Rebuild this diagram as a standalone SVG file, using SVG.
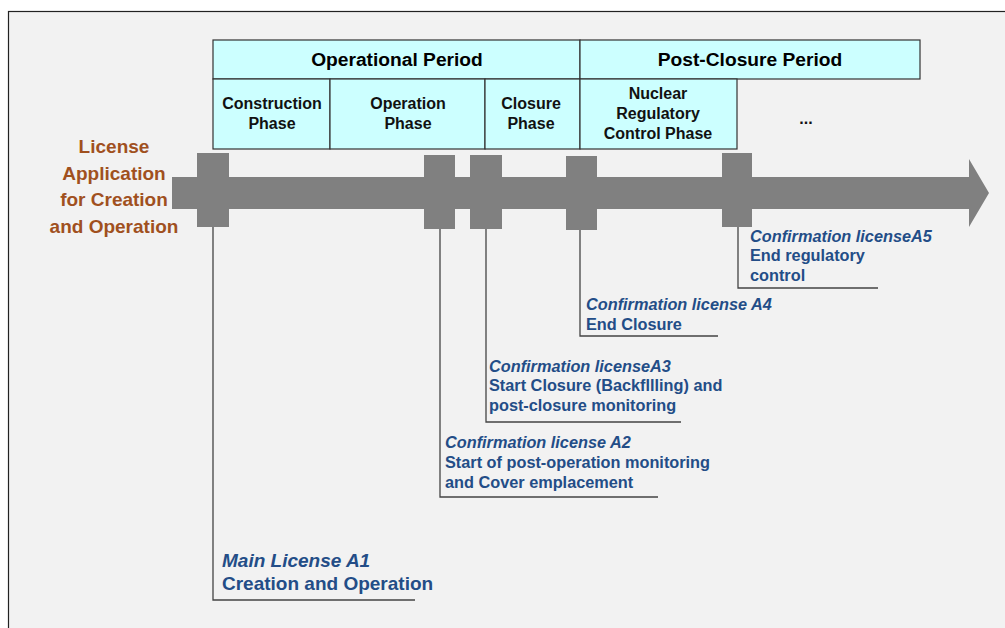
<svg xmlns="http://www.w3.org/2000/svg" width="1005" height="628" viewBox="0 0 1005 628">
<style>
.box{fill:#ccffff;stroke:#333;stroke-width:1.2}
.hd{font-family:"Liberation Sans",Arial,sans-serif;font-weight:bold;font-size:19.2px;fill:#000;text-anchor:middle}
.ph{font-family:"Liberation Sans",Arial,sans-serif;font-weight:bold;font-size:16px;fill:#111;text-anchor:middle}
.lic{font-family:"Liberation Sans",Arial,sans-serif;font-weight:bold;font-size:16.3px;fill:#234d87}
.big{font-family:"Liberation Sans",Arial,sans-serif;font-weight:bold;font-size:19px;fill:#234d87}
.it{font-style:italic}
.app{font-family:"Liberation Sans",Arial,sans-serif;font-weight:bold;font-size:19px;fill:#a0501e;text-anchor:middle}
.ln{fill:none;stroke:#444;stroke-width:1.3}
.blk{fill:#808080}
</style>
<rect x="0" y="0" width="1005" height="628" fill="#ffffff"/>
<rect x="8.5" y="11.5" width="1000" height="620" fill="#f2f2f2" stroke="#222" stroke-width="1.2"/>

<g id="header">
<g id="operational-period"><rect class="box" x="213" y="40" width="367" height="39"/><text class="hd" x="397" y="66">Operational Period</text></g>
<g id="post-closure-period"><rect class="box" x="580" y="40" width="340" height="39"/><text class="hd" x="750" y="66">Post-Closure Period</text></g>
<g id="construction-phase"><rect class="box" x="213" y="79" width="117" height="70"/><text class="ph" x="272" y="109">Construction</text><text class="ph" x="272" y="129">Phase</text></g>
<g id="operation-phase"><rect class="box" x="330" y="79" width="155" height="70"/><text class="ph" x="408" y="109">Operation</text><text class="ph" x="408" y="129">Phase</text></g>
<g id="closure-phase"><rect class="box" x="485" y="79" width="95" height="70"/><text class="ph" x="531" y="109">Closure</text><text class="ph" x="531" y="129">Phase</text></g>
<g id="regulatory-phase"><rect class="box" x="580" y="79" width="157" height="70"/><text class="ph" x="658" y="99">Nuclear</text><text class="ph" x="658" y="119">Regulatory</text><text class="ph" x="658" y="139">Control Phase</text></g>
<g id="ellipsis"><text class="ph" x="806" y="124">...</text></g>
</g>

<g id="application-label">
<text class="app" x="114" y="153">License</text>
<text class="app" x="114" y="180">Application</text>
<text class="app" x="114" y="206">for Creation</text>
<text class="app" x="114" y="233">and Operation</text>
</g>

<g id="timeline">
<polygon class="blk" points="172,177 969,177 969,159 989,193 969,227 969,209 172,209"/>
<rect class="blk" x="197" y="153" width="32" height="74"/>
<rect class="blk" x="424" y="155" width="31" height="74"/>
<rect class="blk" x="470" y="155" width="32" height="74"/>
<rect class="blk" x="566" y="156" width="31" height="74"/>
<rect class="blk" x="722" y="153" width="30" height="74"/>
</g>

<g id="connectors">
<polyline class="ln" points="213,227 213,600 415,600"/>
<polyline class="ln" points="440,229 440,497 658,497"/>
<polyline class="ln" points="486,229 486,422 681,422"/>
<polyline class="ln" points="580,230 580,336 718,336"/>
<polyline class="ln" points="738,227 738,288 878,288"/>
</g>

<g id="license-a5">
<text class="lic it" x="750" y="242">Confirmation licenseA5</text>
<text class="lic" x="750" y="261">End regulatory</text>
<text class="lic" x="750" y="281">control</text>
</g>
<g id="license-a4">
<text class="lic it" x="586" y="310">Confirmation license A4</text>
<text class="lic" x="586" y="330">End Closure</text>
</g>
<g id="license-a3">
<text class="lic it" x="489" y="372">Confirmation licenseA3</text>
<text class="lic" x="489" y="391">Start Closure (Backfllling) and</text>
<text class="lic" x="489" y="411">post-closure monitoring</text>
</g>
<g id="license-a2">
<text class="lic it" x="445" y="448">Confirmation license A2</text>
<text class="lic" x="445" y="468">Start of post-operation monitoring</text>
<text class="lic" x="445" y="488">and Cover emplacement</text>
</g>
<g id="license-a1">
<text class="big it" x="222" y="567">Main License A1</text>
<text class="big" x="222" y="590">Creation and Operation</text>
</g>
</svg>
